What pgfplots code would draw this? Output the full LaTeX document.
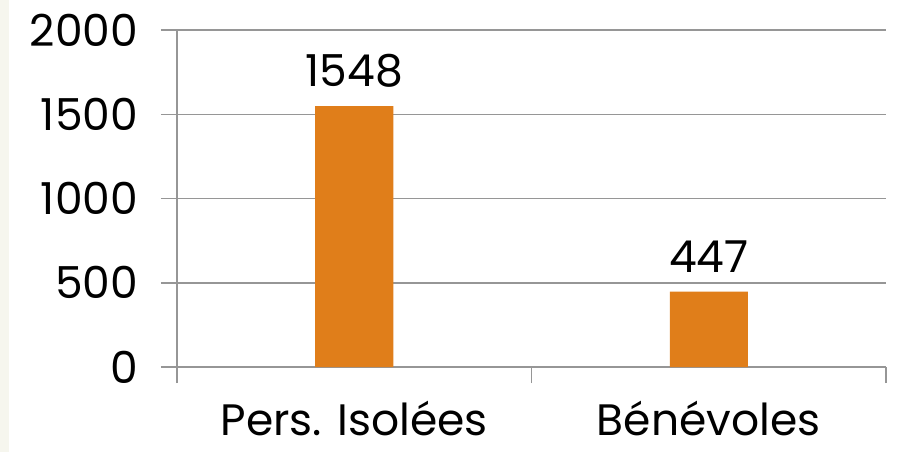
\documentclass[border=0pt]{standalone}
\usepackage{pgfplots}
\pgfplotsset{compat=1.18}
\usepackage{fontspec}
\setmainfont{Poppins}
\definecolor{barorange}{RGB}{224,126,26}
\definecolor{gridgray}{RGB}{150,150,150}
\definecolor{stripbg}{RGB}{246,246,238}
\begin{document}
\begin{tikzpicture}
\useasboundingbox (-88.5pt,-42.5pt) rectangle (360.5pt,183.5pt);
\fill[stripbg] (-88.5pt,-42.5pt) rectangle (-84pt,183.5pt);
\begin{axis}[
  at={(0,0)}, anchor=south west,
  scale only axis, width=354.5pt, height=168.5pt,
  axis x line*=bottom, axis y line*=left,
  axis line style={-, draw=gridgray, line width=0.75pt},
  xmin=0.5, xmax=2.5, ymin=0, ymax=2000,
  ytick={0,500,1000,1500,2000},
  xtick={0.5,1.5,2.5}, xticklabels={},
  extra x ticks={1,2}, extra x tick labels={Pers. Isolées, Bénévoles},
  extra x tick style={major tick length=0pt, grid=none},
  tick align=outside, major tick length=8pt,
  tick style={draw=gridgray, line width=0.75pt},
  ymajorgrids, grid style={draw=gridgray, line width=0.75pt},
  /pgf/number format/assume math mode=true,
  /pgf/number format/1000 sep={},
  tick label style={font=\fontsize{22}{24}\selectfont, text=black},
  yticklabel style={xshift=-8pt},
  xticklabel style={inner sep=0pt, yshift=-17pt},
  ybar, bar width=39pt,
  nodes near coords,
  nodes near coords style={font=\fontsize{22}{24}\selectfont, text=black, yshift=6pt},
  every node near coord/.append style={/pgf/number format/assume math mode=true},
]
\addplot[fill=barorange, draw=none] coordinates {(1,1548) (2,447)};
\end{axis}
\end{tikzpicture}
\end{document}
